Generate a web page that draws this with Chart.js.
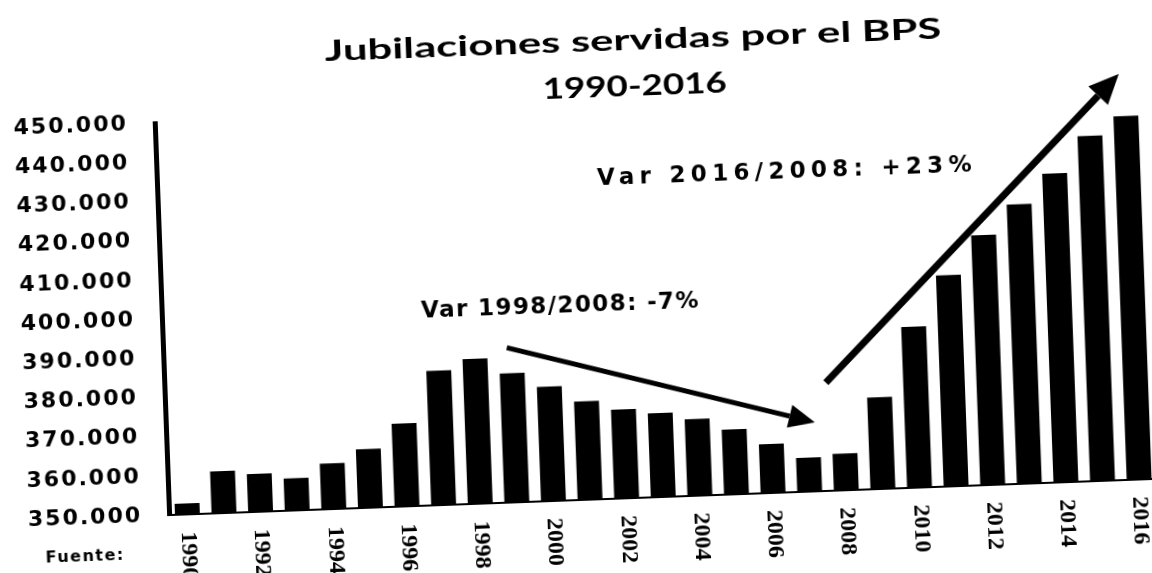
<!DOCTYPE html>
<html>
<head>
<meta charset="utf-8">
<script src="https://cdn.jsdelivr.net/npm/chart.js@4/dist/chart.umd.min.js"></script>
<style>
html,body{margin:0;padding:0;background:#fff;overflow:hidden;}
#chart{display:block;transform:rotate(-2.1deg);transform-origin:576px 286px;}
</style>
</head>
<body>
<canvas id="chart" width="1152" height="573"></canvas>
<script>
// datos (jubilaciones servidas, fin de cada año)
const yearLabels = ['1990','1991','1992','1993','1994','1995','1996','1997','1998','1999',
  '2000','2001','2002','2003','2004','2005','2006','2007','2008','2009',
  '2010','2011','2012','2013','2014','2015','2016'];
const jubilaciones = [352800,360700,359700,358200,361700,365000,371200,384300,387000,383000,
  379200,375100,372700,371400,369600,366600,362500,358700,359400,373400,
  391100,403900,413800,421300,428800,438100,442800];
const yMin = 350000, yMax = 450000, yStep = 10000;
const titleLines = ['Jubilaciones servidas por el BPS', '1990-2016'];
const sourceText = 'Fuente:';
// notas y flechas, ancladas en coordenadas de datos (indice de año, valor)
const notes = [
  {text:'Var 1998/2008: -7%', at:[6.58, 399600], spacing:1.4},
  {text:'Var 2016/2008: +23%', at:[11.51, 431500], spacing:5.3}
];
const arrows = [
  {from:[8.88, 389500], to:[17.21, 367600], width:5, head:26},
  {from:[17.55, 377600], to:[25.85, 453600], width:7, head:30}
];

function fmt(v){
  return String(v).replace(/\B(?=(\d{3})+(?!\d))/g, '.');
}

// texto estirado a un ancho dado (el escaneo es mas ancho que la fuente)
function wideText(ctx, txt, cx, y, w){
  const m = ctx.measureText(txt).width;
  ctx.save();
  ctx.translate(cx, y);
  ctx.scale(w/m, 1);
  ctx.textAlign = 'center';
  ctx.fillText(txt, 0, 0);
  ctx.restore();
}

const decor = {
  id:'decor',
  beforeDraw(chart){
    chart.ctx.letterSpacing = '2px';
  },
  afterDraw(chart){
    const ctx = chart.ctx, a = chart.chartArea, xs = chart.scales.x, ys = chart.scales.y;
    ctx.save();
    ctx.fillStyle = '#000';
    ctx.strokeStyle = '#000';

    // etiquetas de años, giradas
    ctx.letterSpacing = '0px';
    ctx.font = 'bold 24px "Liberation Serif"';
    ctx.textAlign = 'left';
    ctx.textBaseline = 'middle';
    for(let i=0;i<yearLabels.length;i+=2){
      ctx.save();
      ctx.translate(xs.getPixelForValue(i), a.bottom+17);
      ctx.rotate(Math.PI/2);
      ctx.fillText(yearLabels[i],0,0);
      ctx.restore();
    }

    // titulo
    ctx.textBaseline = 'alphabetic';
    ctx.font = 'bold 29px Lato';
    wideText(ctx, titleLines[0], 642, 52, 617);
    ctx.font = 'bold 29px Lato';
    wideText(ctx, titleLines[1], 642, 98, 184);

    // fuente
    ctx.textBaseline = 'middle';
    ctx.font = 'bold 16px "DejaVu Sans"';
    ctx.letterSpacing = '1.5px';
    ctx.textAlign = 'left';
    ctx.fillText(sourceText, 36, 539);

    // notas
    ctx.font = 'bold 23px "DejaVu Sans"';
    notes.forEach(n=>{
      ctx.letterSpacing = n.spacing+'px';
      ctx.fillText(n.text, xs.getPixelForValue(n.at[0]), ys.getPixelForValue(n.at[1]));
    });

    // flechas
    ctx.letterSpacing = '0px';
    arrows.forEach(ar=>{
      const x0 = xs.getPixelForValue(ar.from[0]), y0 = ys.getPixelForValue(ar.from[1]);
      const x1 = xs.getPixelForValue(ar.to[0]), y1 = ys.getPixelForValue(ar.to[1]);
      const ang = Math.atan2(y1-y0, x1-x0);
      const bx = x1 - ar.head*Math.cos(ang), by = y1 - ar.head*Math.sin(ang);
      ctx.lineWidth = ar.width;
      ctx.beginPath();
      ctx.moveTo(x0,y0);
      ctx.lineTo(bx,by);
      ctx.stroke();
      const hw = ar.head*0.45;
      ctx.beginPath();
      ctx.moveTo(x1,y1);
      ctx.lineTo(bx + hw*Math.sin(ang), by - hw*Math.cos(ang));
      ctx.lineTo(bx - hw*Math.sin(ang), by + hw*Math.cos(ang));
      ctx.closePath();
      ctx.fill();
    });
    ctx.restore();
  }
};

new Chart(document.getElementById('chart'), {
  type:'bar',
  data:{
    labels:yearLabels,
    datasets:[{
      data:jubilaciones,
      backgroundColor:'#000',
      borderWidth:0,
      barPercentage:0.68,
      categoryPercentage:1.0
    }]
  },
  options:{
    responsive:false,
    animation:false,
    layout:{padding:{top:108, right:2, left:10, bottom:0}},
    plugins:{legend:{display:false}, tooltip:{enabled:false}},
    scales:{
      x:{
        grid:{display:false, drawTicks:false},
        border:{display:true, color:'#000', width:2},
        ticks:{display:false},
        afterFit(s){ s.height = 73; }
      },
      y:{
        min:yMin, max:yMax,
        grid:{display:false, drawTicks:false},
        border:{display:true, color:'#000', width:5},
        ticks:{
          stepSize:yStep,
          padding:27,
          color:'#000',
          font:{family:'"DejaVu Sans"', size:22, weight:'bold'},
          callback:v=>fmt(v)
        },
        afterFit(s){ s.width = 151; }
      }
    }
  },
  plugins:[decor]
});
</script>
</body>
</html>
